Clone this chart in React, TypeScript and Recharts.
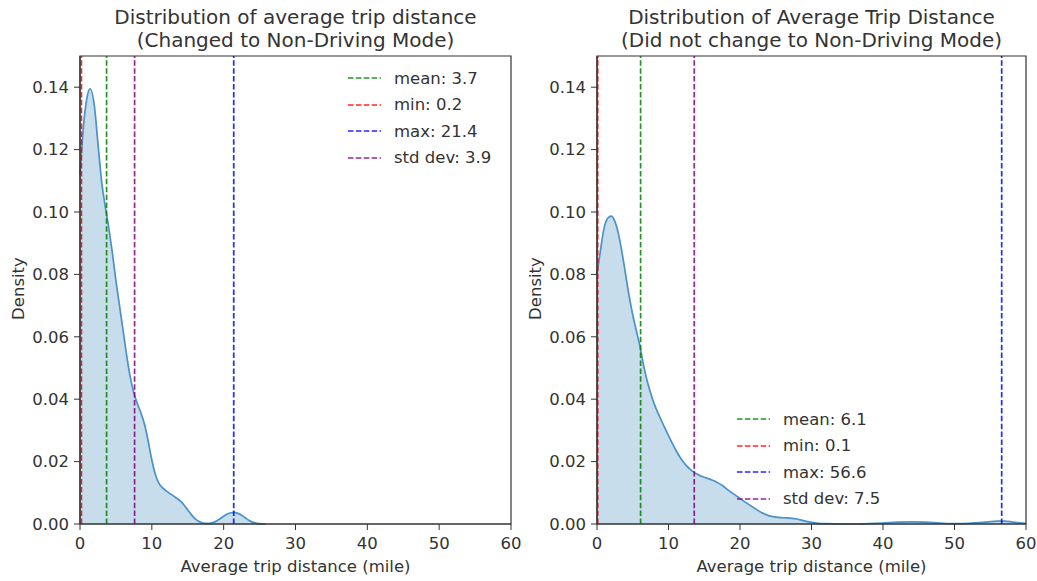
import React from 'react';
import {
  ComposedChart,
  Area,
  XAxis,
  YAxis,
  ReferenceLine,
  ReferenceArea,
} from 'recharts';

// KDE estimate, changed to non-driving mode
const changedX = [
  0, 0.5, 1, 1.4, 2, 2.5, 3, 3.5, 4, 4.5, 5, 5.5, 6, 6.5, 7, 7.5, 8, 8.5, 9, 9.5, 10,
  10.5, 11, 11.5, 12, 12.5, 13, 13.5, 14, 14.5, 15, 15.5, 16, 16.5, 17, 17.5, 18, 18.5,
  19, 19.5, 20, 20.5, 21, 21.5, 22, 22.5, 23, 23.5, 24, 24.5, 25, 25.8,
];
const changedDensity = [
  0.112, 0.128, 0.137, 0.1395, 0.134, 0.122, 0.11, 0.102, 0.095, 0.087, 0.078, 0.07,
  0.062, 0.054, 0.047, 0.042, 0.0385, 0.0355, 0.0318, 0.0265, 0.0205, 0.0158, 0.013,
  0.0116, 0.0106, 0.0098, 0.009, 0.0082, 0.0073, 0.006, 0.0045, 0.003, 0.0017, 0.0009,
  0.0004, 0.0002, 0.0002, 0.0005, 0.001, 0.0017, 0.0025, 0.0032, 0.0036, 0.0037, 0.0034,
  0.0028, 0.002, 0.0012, 0.0006, 0.0003, 0.0001, 0,
];

// KDE estimate, did not change to non-driving mode
const unchangedX = [
  0, 0.5, 1, 1.5, 2, 2.5, 3, 3.5, 4, 4.5, 5, 5.5, 6, 6.5, 7, 7.5, 8, 8.5, 9, 9.5, 10,
  10.5, 11, 11.5, 12, 12.5, 13, 13.5, 14, 14.5, 15, 15.5, 16, 16.5, 17, 17.5, 18, 18.5,
  19, 19.5, 20, 21, 22, 23, 24, 25, 26, 27, 28, 29, 30, 31, 32, 34, 36, 38, 40, 42, 44,
  46, 48, 50, 52, 54, 56, 57, 58, 59, 60,
];
const unchangedDensity = [
  0.08, 0.088, 0.095, 0.098, 0.0987, 0.097, 0.093, 0.087, 0.08, 0.073, 0.067, 0.062,
  0.057, 0.051, 0.046, 0.042, 0.0385, 0.0357, 0.0332, 0.0307, 0.0283, 0.026, 0.0238,
  0.0218, 0.0201, 0.0187, 0.0176, 0.0167, 0.016, 0.0154, 0.015, 0.0146, 0.0142, 0.0137,
  0.0131, 0.0124, 0.0115, 0.0106, 0.0098, 0.009, 0.0082, 0.0066, 0.0051, 0.0037, 0.0027,
  0.0022, 0.002, 0.0019, 0.0016, 0.001, 0.0005, 0.0002, 0.0001, 0, 0, 0.0001, 0.0003,
  0.0006, 0.0007, 0.0006, 0.0003, 0.0001, 0.0002, 0.0005, 0.0009, 0.0009, 0.0007, 0.0004,
  0.0002,
];

// summary stats: mean, min, max, std dev
const changedStats = [3.7, 0.2, 21.4, 3.9];
const unchangedStats = [6.1, 0.1, 56.6, 7.5];
const statNames = ['mean', 'min', 'max', 'std dev'];
const statColors = ['#008000', '#ff0000', '#0000ff', '#800080'];

const xTicks = [0, 10, 20, 30, 40, 50, 60];
const yTicks = [0, 0.02, 0.04, 0.06, 0.08, 0.1, 0.12, 0.14];

const FONT = '"DejaVu Sans", sans-serif';
const INK = '#333';

const zip = (xs: number[], ys: number[]) => xs.map((x, i) => ({ x, density: ys[i] }));

// std dev line is drawn one std dev above the mean
const statPositions = (s: number[]) => [s[0], s[1], s[2], +(s[0] + s[3]).toFixed(1)];

type PanelProps = {
  left: number;
  width: number;
  rightMargin: number;
  yAxisWidth: number;
  data: { x: number; density: number }[];
  stats: number[];
};

const Panel: React.FC<PanelProps> = ({ left, width, rightMargin, yAxisWidth, data, stats }) => {
  const lines = statPositions(stats);
  return (
    <div style={{ position: 'absolute', left, top: 0 }}>
      <ComposedChart
        width={width}
        height={581}
        data={data}
        margin={{ top: 56, right: rightMargin, left: 20, bottom: 12 }}
      >
        <XAxis
          dataKey="x"
          type="number"
          domain={[0, 60]}
          ticks={xTicks}
          height={45}
          tick={{ fill: INK, fontSize: 16.5, fontFamily: FONT }}
          tickSize={6}
          tickMargin={7}
          axisLine={{ stroke: INK, strokeWidth: 1.2 }}
          tickLine={{ stroke: INK }}
        />
        <YAxis
          type="number"
          domain={[0, 0.15]}
          ticks={yTicks}
          width={yAxisWidth}
          tickFormatter={(v: number) => v.toFixed(2)}
          tick={{ fill: INK, fontSize: 16.5, fontFamily: FONT }}
          tickSize={6}
          tickMargin={5}
          axisLine={{ stroke: INK, strokeWidth: 1.2 }}
          tickLine={{ stroke: INK }}
        />
        <Area
          type="monotone"
          dataKey="density"
          stroke="#4a92c9"
          strokeWidth={1.7}
          fill="#1f77b4"
          fillOpacity={0.25}
          dot={false}
          activeDot={false}
          isAnimationActive={false}
        />
        {lines.map((v, i) => (
          <ReferenceLine
            key={statNames[i]}
            x={v}
            stroke={statColors[i]}
            strokeWidth={1.7}
            strokeDasharray="5.5 2.4"
            strokeOpacity={0.85}
          />
        ))}
        <ReferenceArea x1={0} x2={60} y1={0} y2={0.15} fill="none" stroke={INK} strokeWidth={1.2} />
      </ComposedChart>
    </div>
  );
};

type LegendProps = { x: number; y: number; stats: number[] };

const StatLegend: React.FC<LegendProps> = ({ x, y, stats }) => (
  <div style={{ position: 'absolute', left: x, top: y, fontFamily: FONT, fontSize: 16.5, color: INK }}>
    {statNames.map((name, i) => (
      <div key={name} style={{ display: 'flex', alignItems: 'center', height: 26.5 }}>
        <svg width={33} height={6} style={{ marginRight: 13 }}>
          <line x1={0} y1={3} x2={33} y2={3} stroke={statColors[i]} strokeWidth={1.7} strokeDasharray="5.5 2.4" strokeOpacity={0.85} />
        </svg>
        <span>{`${name}: ${stats[i]}`}</span>
      </div>
    ))}
  </div>
);

const Title: React.FC<{ cx: number; lines: string[] }> = ({ cx, lines }) => (
  <div
    style={{
      position: 'absolute',
      left: cx - 260,
      width: 520,
      top: 6,
      textAlign: 'center',
      fontFamily: FONT,
      fontSize: 20,
      lineHeight: '23px',
      color: INK,
    }}
  >
    {lines.map((l) => (
      <div key={l}>{l}</div>
    ))}
  </div>
);

const label = { position: 'absolute' as const, fontFamily: FONT, fontSize: 16.5, color: INK, whiteSpace: 'nowrap' as const };

const XLabel: React.FC<{ cx: number }> = ({ cx }) => (
  <div style={{ ...label, left: cx - 150, width: 300, top: 557, textAlign: 'center' }}>
    Average trip distance (mile)
  </div>
);

const YLabel: React.FC<{ cx: number }> = ({ cx }) => (
  <div style={{ ...label, left: cx - 40, width: 80, top: 279, textAlign: 'center', transform: 'rotate(-90deg)' }}>
    Density
  </div>
);

export default function App() {
  return (
    <div style={{ position: 'absolute', left: 0, top: 0, width: 1037, height: 581, background: '#fff' }}>
      <Panel left={518} width={519} rightMargin={11} yAxisWidth={59} data={zip(unchangedX, unchangedDensity)} stats={unchangedStats} />
      {/* left panel is a bit wider so its last tick label is not clipped */}
      <Panel left={0} width={530} rightMargin={19} yAxisWidth={60} data={zip(changedX, changedDensity)} stats={changedStats} />
      <Title cx={295.5} lines={['Distribution of average trip distance', '(Changed to Non-Driving Mode)']} />
      <Title cx={811.5} lines={['Distribution of Average Trip Distance', '(Did not change to Non-Driving Mode)']} />
      <StatLegend x={348} y={65} stats={changedStats} />
      <StatLegend x={737} y={406} stats={unchangedStats} />
      <XLabel cx={295.5} />
      <XLabel cx={811.5} />
      <YLabel cx={18} />
      <YLabel cx={535} />
    </div>
  );
}
